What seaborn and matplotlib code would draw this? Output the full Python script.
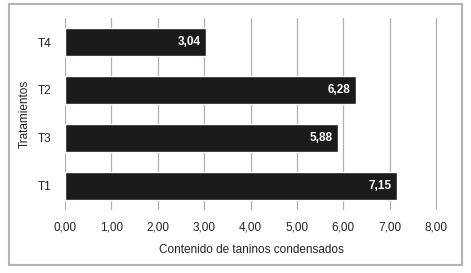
import matplotlib
matplotlib.use("Agg")
import matplotlib.pyplot as plt
import seaborn as sns
import pandas as pd
from matplotlib.patches import Rectangle
from matplotlib.ticker import FuncFormatter

# Data
tratamientos = ['T4', 'T2', 'T3', 'T1']
taninos = [3.04, 6.28, 5.88, 7.15]

df = pd.DataFrame({'Tratamiento': tratamientos, 'Taninos': taninos})

sns.set_style('white')
plt.rcParams['font.family'] = ['Liberation Sans Narrow', 'Liberation Sans', 'DejaVu Sans']

fig = plt.figure(figsize=(4.71, 2.73), dpi=100)
ax = fig.add_axes([0.138, 0.231, 0.79, 0.703])

# Outer frame
fig.patches.append(Rectangle((9 / 471, 1 - 265 / 273), 453 / 471, 261 / 273,
                             transform=fig.transFigure, fill=False,
                             edgecolor='#b4b4b4', linewidth=1.5))

sns.barplot(data=df, x='Taninos', y='Tratamiento', order=tratamientos,
            color='#1c1a1b', saturation=1, width=0.6, ax=ax, zorder=3)

for i, v in enumerate(taninos):
    ax.text(v - 0.12, i, f"{v:.2f}".replace('.', ','), color='white',
            ha='right', va='center', fontsize=8.5, fontweight='bold', zorder=4)

ax.set_xlim(0, 8.02)
ax.set_ylim(3.5, -0.5)
ax.set_xticks(range(0, 9))
ax.xaxis.set_major_formatter(FuncFormatter(lambda x, p: f"{x:.2f}".replace('.', ',')))
ax.grid(axis='x', color='#b0b0b0', linewidth=0.9, zorder=0)
ax.grid(axis='y', visible=False)
for s in ax.spines.values():
    s.set_visible(False)
ax.tick_params(axis='both', length=0, labelsize=8.5, colors='#222222')
ax.tick_params(axis='x', pad=8)
ax.tick_params(axis='y', pad=10)
ax.set_xlabel('Contenido de taninos condensados', fontsize=8.5, color='#222222', labelpad=8)
ax.set_ylabel('Tratamientos', fontsize=8.5, color='#222222', labelpad=5)

fig.savefig('out.png', dpi=100)
